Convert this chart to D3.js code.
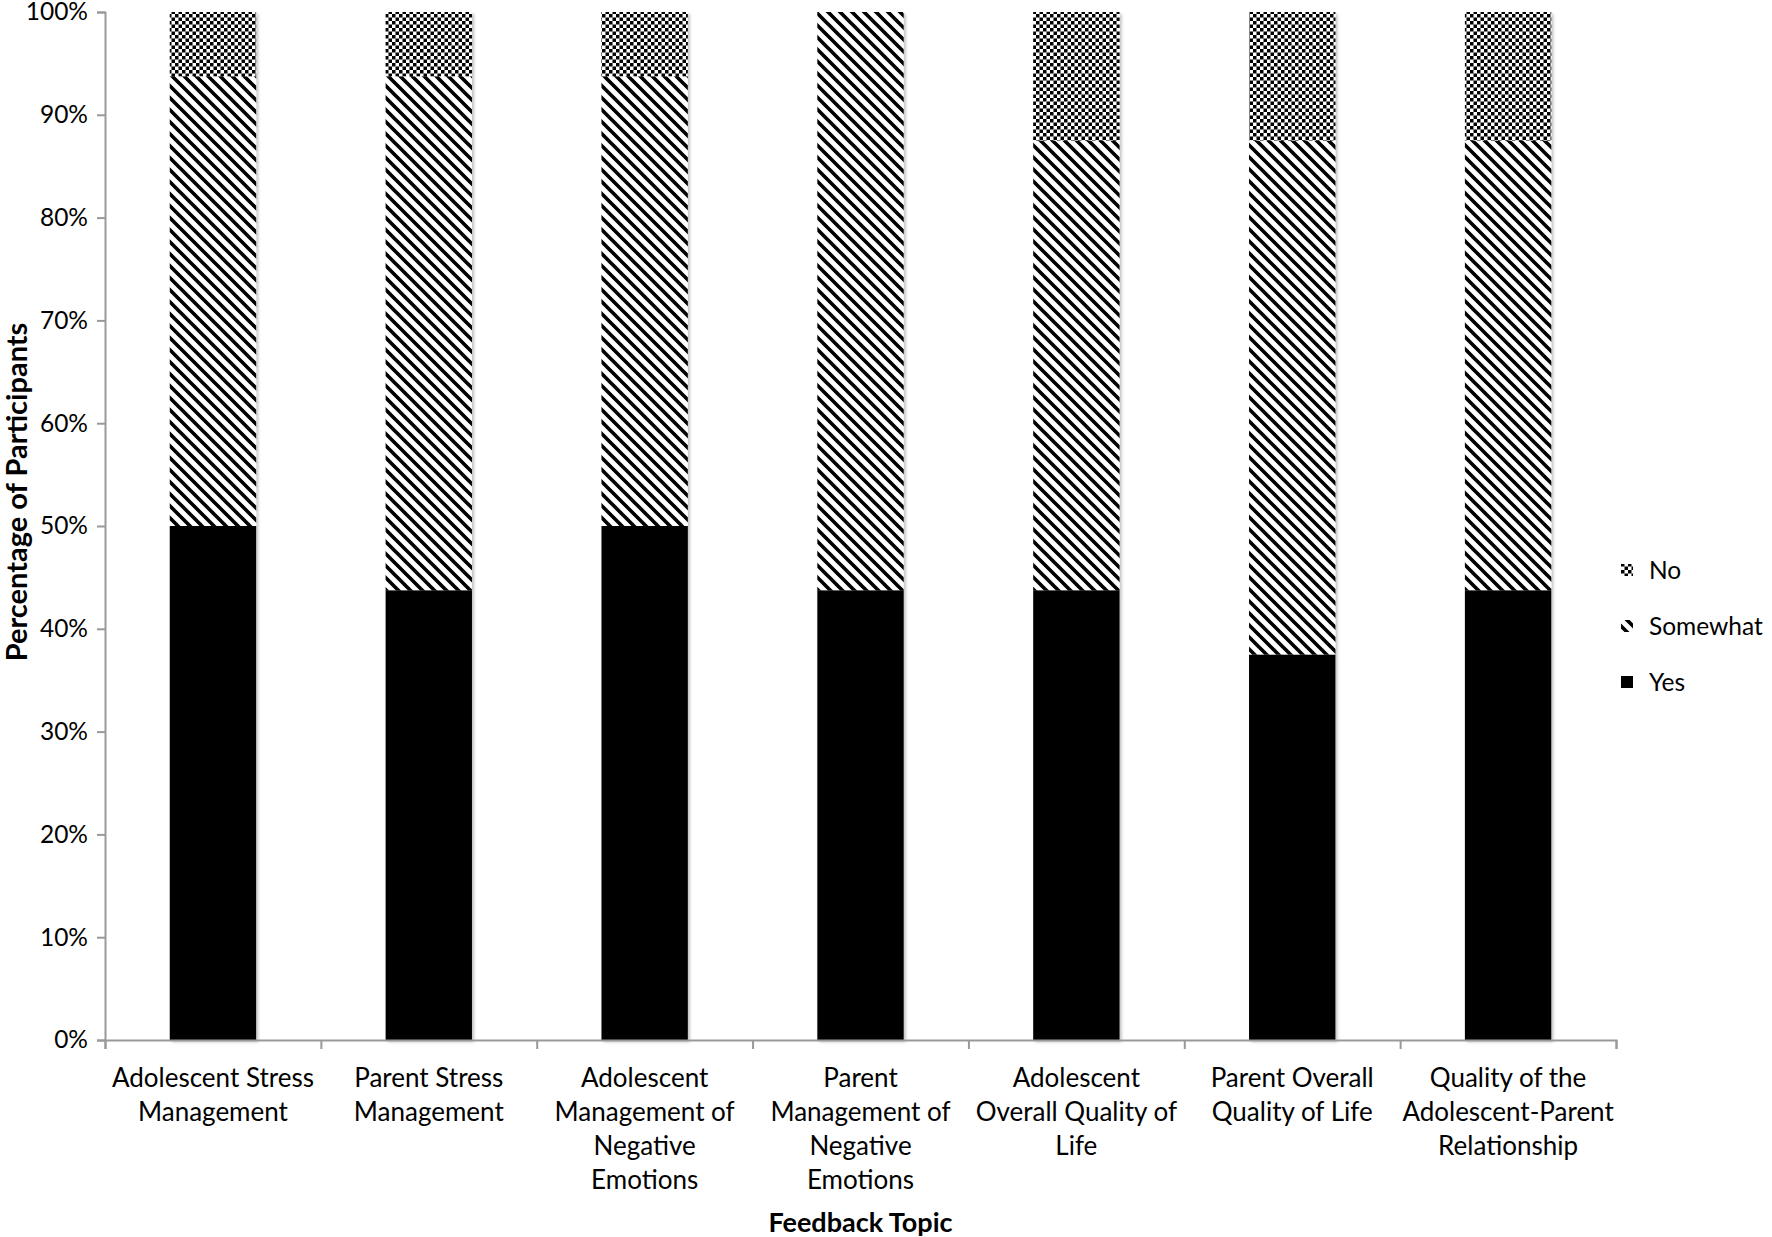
<!DOCTYPE html>
<html>
<head>
<meta charset="utf-8">
<script src="https://cdn.jsdelivr.net/npm/d3@7"></script>
<style>
  body { margin: 0; background: #fff; }
  svg { display: block; font-family: Lato, "Open Sans", sans-serif; }
</style>
</head>
<body>
<svg id="chart" width="1772" height="1237"></svg>
<script>
// feedback topics (line breaks as in the figure)
const categories = [
    "Adolescent Stress\nManagement",
    "Parent Stress\nManagement",
    "Adolescent\nManagement of\nNegative\nEmotions",
    "Parent\nManagement of\nNegative\nEmotions",
    "Adolescent\nOverall Quality of\nLife",
    "Parent Overall\nQuality of Life",
    "Quality of the\nAdolescent-Parent\nRelationship"
];
const seriesNames = ["Yes", "Somewhat", "No"];
const yesValues      = [50, 43.75, 50, 43.75, 43.75, 37.5, 43.75];
const somewhatValues = [43.75, 50, 43.75, 56.25, 43.75, 50, 43.75];
const noValues       = [6.25, 6.25, 6.25, 0, 12.5, 12.5, 12.5];
const yTicks = [0, 10, 20, 30, 40, 50, 60, 70, 80, 90, 100];

const rows = categories.map((c, i) => ({
    cat: c, Yes: yesValues[i], Somewhat: somewhatValues[i], No: noValues[i]
}));
const stacked = d3.stack().keys(seriesNames)(rows);

const svg = d3.select("#chart");
const margin = { top: 12, right: 156, bottom: 197, left: 105 };
const width = 1772, height = 1237;

const x = d3.scaleBand()
    .domain(categories)
    .range([margin.left, width - margin.right])
    .paddingInner(0.6)
    .paddingOuter(0.3);

const xEdges = d3.scaleLinear()
    .domain([0, categories.length])
    .range([margin.left, width - margin.right]);

const y = d3.scaleLinear()
    .domain([0, 100])
    .range([height - margin.bottom, margin.top]);

// fill patterns
const defs = svg.append("defs");
const check = defs.append("pattern")
    .attr("id", "pat-no")
    .attr("patternUnits", "userSpaceOnUse")
    .attr("width", 7).attr("height", 7);
check.append("rect").attr("width", 7).attr("height", 7).attr("fill", "#fff");
check.append("rect").attr("width", 3.5).attr("height", 3.5).attr("fill", "#000");
check.append("rect").attr("x", 3.5).attr("y", 3.5).attr("width", 3.5).attr("height", 3.5).attr("fill", "#000");

const sp = 12;
const stripe = defs.append("pattern")
    .attr("id", "pat-somewhat")
    .attr("patternUnits", "userSpaceOnUse")
    .attr("width", sp).attr("height", sp);
stripe.append("rect").attr("width", sp).attr("height", sp).attr("fill", "#fff");
stripe.append("path")
    .attr("d", `M-2,-2 L${sp + 2},${sp + 2} M${-sp - 2},-2 L2,${sp + 2} M${sp - 2},-2 L${2 * sp + 2},${sp + 2}`)
    .attr("stroke", "#000").attr("stroke-width", 3.6);

const shadow = defs.append("filter").attr("id", "shadow")
    .attr("x", "-10%").attr("y", "-10%").attr("width", "130%").attr("height", "130%");
shadow.append("feDropShadow")
    .attr("dx", 2).attr("dy", 2).attr("stdDeviation", 1.5)
    .attr("flood-color", "#000").attr("flood-opacity", 0.25);

const fills = { Yes: "#000", Somewhat: "url(#pat-somewhat)", No: "url(#pat-no)" };

// bars
svg.append("g").attr("filter", "url(#shadow)")
    .selectAll("g")
    .data(stacked)
    .join("g")
    .attr("fill", s => fills[s.key])
    .selectAll("rect")
    .data(s => s)
    .join("rect")
    .attr("x", d => x(d.data.cat))
    .attr("width", x.bandwidth())
    .attr("y", d => y(d[1]))
    .attr("height", d => y(d[0]) - y(d[1]));

// y axis
const yAxis = svg.append("g")
    .attr("transform", `translate(${margin.left},0)`)
    .call(d3.axisLeft(y).tickValues(yTicks).tickSize(8).tickPadding(9)
        .tickFormat(d => d + "%"));
yAxis.selectAll("path, line").attr("stroke", "#999").attr("stroke-width", 2);
yAxis.selectAll("text").attr("font-size", 24.5).attr("fill", "#000")
    .attr("font-family", "Lato, 'Open Sans', sans-serif");

// x axis
const xAxis = svg.append("g")
    .attr("transform", `translate(0,${height - margin.bottom})`)
    .call(d3.axisBottom(xEdges).tickValues(d3.range(categories.length + 1))
        .tickSize(9).tickFormat(""));
xAxis.selectAll("path, line").attr("stroke", "#999").attr("stroke-width", 2);

// category labels
svg.append("g")
    .selectAll("text")
    .data(categories)
    .join("text")
    .attr("x", d => x(d) + x.bandwidth() / 2)
    .attr("y", height - margin.bottom + 47)
    .attr("text-anchor", "middle")
    .attr("font-size", 26)
    .selectAll("tspan")
    .data(d => d.split("\n"))
    .join("tspan")
    .attr("x", function () { return this.parentNode.getAttribute("x"); })
    .attr("dy", (d, i) => i === 0 ? 0 : 34)
    .text(d => d);

// axis titles
svg.append("text")
    .attr("x", (margin.left + width - margin.right) / 2)
    .attr("y", 1232)
    .attr("text-anchor", "middle")
    .attr("font-size", 27).attr("font-weight", "bold")
    .text("Feedback Topic");

svg.append("text")
    .attr("transform", "translate(27,492) rotate(-90)")
    .attr("text-anchor", "middle")
    .attr("font-size", 29).attr("font-weight", "bold")
    .text("Percentage of Participants");

// legend
const legend = svg.append("g")
    .selectAll("g")
    .data(seriesNames.slice().reverse())
    .join("g")
    .attr("transform", (d, i) => `translate(1621,${570 + i * 56})`);
legend.append("rect")
    .attr("y", -6).attr("width", 12).attr("height", 12)
    .attr("fill", d => fills[d]);
legend.append("text")
    .attr("x", 28).attr("y", 9)
    .attr("font-size", 24.5)
    .text(d => d);
</script>
</body>
</html>
